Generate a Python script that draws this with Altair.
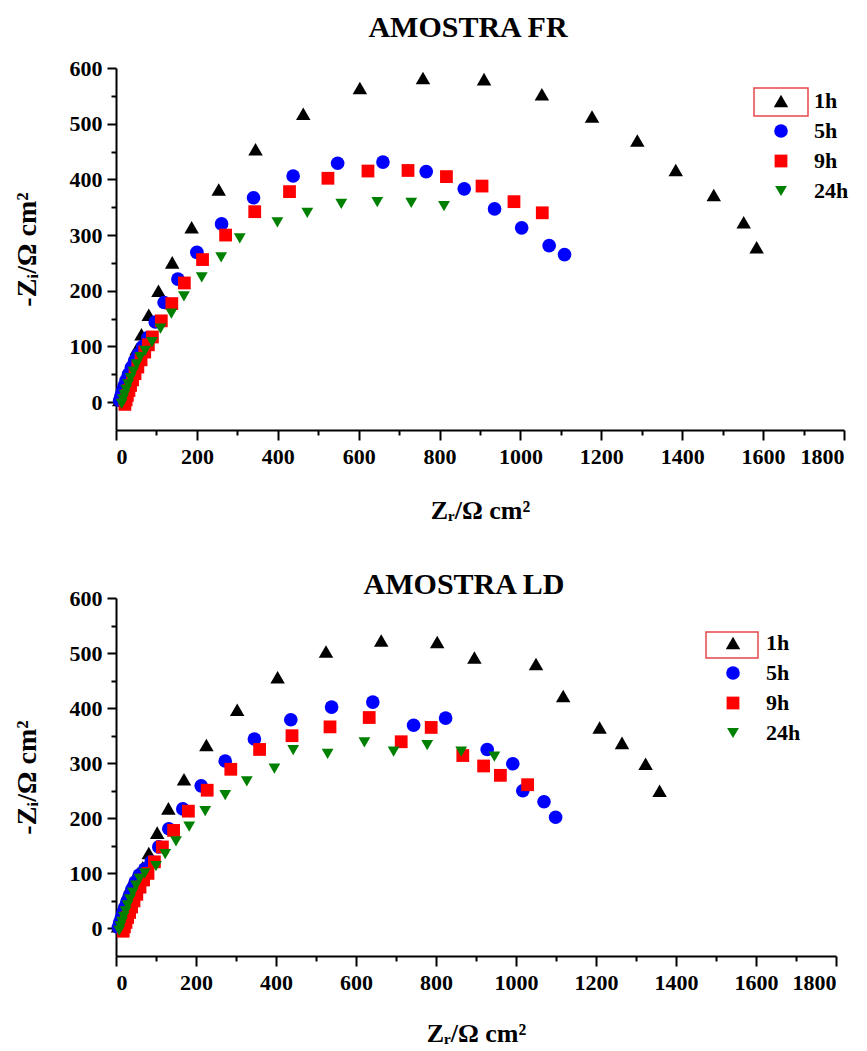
import altair as alt
import pandas as pd

series = ["1h", "5h", "9h", "24h"]
colors = ["#000000", "#0000FF", "#FF0000", "#008000"]
shapes = ["triangle-up", "circle", "square", "triangle-down"]
sizes = [210, 140, 130, 250]

# ---------- AMOSTRA FR ----------
fr_1h_x = [8, 11, 14, 18, 22, 27, 33, 42, 51, 63, 81, 105, 139, 187, 254, 345, 463, 603, 759, 910, 1053, 1177, 1289, 1384, 1478, 1552, 1584]
fr_1h_y = [4, 12, 21, 31, 41, 52, 63, 78, 95, 122, 157, 200, 251, 314, 382, 454, 518, 564, 582, 580, 553, 513, 470, 417, 372, 323, 278]
fr_5h_x = [9, 12, 16, 20, 25, 31, 38, 46, 55, 66, 79, 97, 119, 153, 200, 261, 340, 438, 548, 660, 767, 861, 936, 1003, 1071, 1109]
fr_5h_y = [3, 11, 20, 29, 39, 50, 62, 74, 86, 100, 116, 144, 179, 221, 269, 320, 367, 406, 429, 431, 414, 383, 347, 313, 281, 265]
fr_9h_x = [22, 25, 28, 32, 36, 41, 47, 54, 62, 71, 80, 90, 112, 138, 169, 214, 271, 343, 429, 524, 623, 722, 817, 905, 984, 1054]
fr_9h_y = [-4, 4, 12, 21, 30, 40, 51, 63, 76, 90, 103, 117, 146, 177, 214, 256, 300, 342, 378, 402, 415, 416, 405, 388, 360, 340]
fr_24h_x = [14, 17, 21, 25, 30, 36, 43, 51, 60, 72, 89, 110, 137, 168, 212, 260, 306, 399, 473, 557, 646, 730, 811]
fr_24h_y = [-3, 5, 13, 22, 32, 43, 55, 68, 81, 92, 108, 132, 159, 190, 224, 260, 294, 323, 340, 356, 359, 358, 352]

# ---------- AMOSTRA LD ----------
ld_1h_x = [5, 8, 11, 15, 19, 24, 30, 37, 45, 55, 67, 82, 103, 131, 170, 226, 303, 404, 525, 663, 803, 896, 1050, 1118, 1209, 1265, 1324, 1359]
ld_1h_y = [4, 12, 21, 31, 41, 52, 64, 77, 90, 100, 111, 137, 174, 218, 271, 333, 397, 456, 503, 523, 520, 492, 480, 422, 365, 337, 299, 250]
ld_5h_x = [6, 9, 13, 17, 22, 27, 33, 40, 48, 58, 72, 88, 107, 132, 167, 213, 273, 346, 437, 539, 642, 744, 824, 928, 992, 1017, 1070, 1099]
ld_5h_y = [2, 10, 19, 28, 38, 48, 59, 71, 84, 97, 108, 121, 148, 181, 217, 259, 304, 344, 379, 402, 411, 369, 382, 325, 299, 250, 230, 202]
ld_9h_x = [18, 21, 25, 29, 34, 39, 45, 52, 60, 69, 80, 96, 116, 144, 181, 228, 287, 359, 440, 535, 633, 713, 788, 867, 919, 961, 1029]
ld_9h_y = [-5, 3, 11, 20, 29, 39, 50, 62, 75, 88, 100, 121, 148, 178, 213, 251, 289, 325, 350, 366, 383, 339, 365, 314, 295, 278, 261]
ld_24h_x = [8, 11, 15, 19, 24, 29, 35, 42, 50, 59, 72, 100, 123, 150, 183, 223, 273, 327, 396, 443, 529, 621, 694, 778, 863, 946]
ld_24h_y = [-4, 4, 12, 21, 31, 42, 53, 65, 78, 90, 100, 113, 135, 158, 185, 213, 242, 267, 290, 324, 317, 338, 321, 333, 321, 312]

FONT = "Liberation Serif"


def make_df(pairs):
    rows = []
    for name, xs, ys in pairs:
        for a, b in zip(xs, ys):
            rows.append({"serie": name, "zr": a, "zi": b})
    return pd.DataFrame(rows)


fr_df = make_df([("1h", fr_1h_x, fr_1h_y), ("5h", fr_5h_x, fr_5h_y),
                 ("9h", fr_9h_x, fr_9h_y), ("24h", fr_24h_x, fr_24h_y)])
ld_df = make_df([("1h", ld_1h_x, ld_1h_y), ("5h", ld_5h_x, ld_5h_y),
                 ("9h", ld_9h_x, ld_9h_y), ("24h", ld_24h_x, ld_24h_y)])


def panel(df, title, title_offset, width, height, legend_x, legend_y, box, ytp, xtp):
    x_axis = alt.Axis(
        values=list(range(0, 1801, 100)),
        format="d",
        labelExpr="datum.value % 200 === 0 ? datum.label : ''",
        tickSize={"condition": {"test": "datum.value % 200 === 0", "value": 10}, "value": 5},
        title="Zᵣ/Ω cm²",
        titleFontSize=26,
        titlePadding=xtp,
        labelPadding=6,
    )
    y_axis = alt.Axis(
        values=list(range(0, 601, 50)),
        format="d",
        labelExpr="datum.value % 100 === 0 ? datum.label : ''",
        tickSize={"condition": {"test": "datum.value % 100 === 0", "value": 9}, "value": 5},
        title="-Zᵢ/Ω cm²",
        titleFontSize=28,
        titlePadding=ytp,
        labelPadding=5,
    )
    pts = alt.Chart(df).mark_point(filled=True, opacity=1, strokeWidth=0).encode(
        x=alt.X("zr:Q", scale=alt.Scale(domain=[0, 1800], nice=False, zero=False), axis=x_axis),
        y=alt.Y("zi:Q", scale=alt.Scale(domain=[-50, 600], nice=False, zero=False), axis=y_axis),
        color=alt.Color("serie:N", sort=series,
                        scale=alt.Scale(domain=series, range=colors),
                        legend=alt.Legend(orient="none", legendX=legend_x, legendY=legend_y,
                                          title=None, labelFont=FONT, labelFontSize=22,
                                          labelFontWeight="bold", labelColor="black",
                                          symbolSize=200, symbolStrokeWidth=0,
                                          rowPadding=8, labelOffset=22, padding=0)),
        shape=alt.Shape("serie:N", sort=series, scale=alt.Scale(domain=series, range=shapes)),
        size=alt.Size("serie:N", sort=series, scale=alt.Scale(domain=series, range=sizes), legend=None),
    )
    rect = alt.Chart(alt.Data(values=[{"k": 1}])).mark_rect(
        fillOpacity=0, stroke="#e8474a", strokeWidth=1.5
    ).encode(
        x=alt.value(box[0]), x2=alt.value(box[1]), y=alt.value(box[2]), y2=alt.value(box[3])
    )
    return alt.layer(pts, rect).properties(
        width=width, height=height,
        title=alt.TitleParams(title, font=FONT, fontSize=30, fontWeight="bold",
                              color="black", offset=title_offset, anchor="middle", dx=-12),
    )


top = panel(fr_df, "AMOSTRA FR", 14, 728, 362, 654, 22, (638, 692, 20, 48), 28, 30)
bottom = panel(ld_df, "AMOSTRA LD", -13, 720, 358, 606, 34, (590, 642, 34, 60), 28, 27)

chart = alt.concat(top, bottom, columns=1, spacing=47).resolve_scale(
    color="independent", shape="independent", size="independent"
).configure_axis(
    domainColor="black", domainWidth=2, tickColor="black", tickWidth=2,
    labelFont=FONT, labelFontSize=22, labelFontWeight="bold", labelColor="black",
    titleFont=FONT, titleFontWeight="bold", titleColor="black",
    grid=False,
).configure_view(stroke=None).properties(padding=5)

chart.save("out.html", embed_options={"renderer": "svg", "actions": False})
